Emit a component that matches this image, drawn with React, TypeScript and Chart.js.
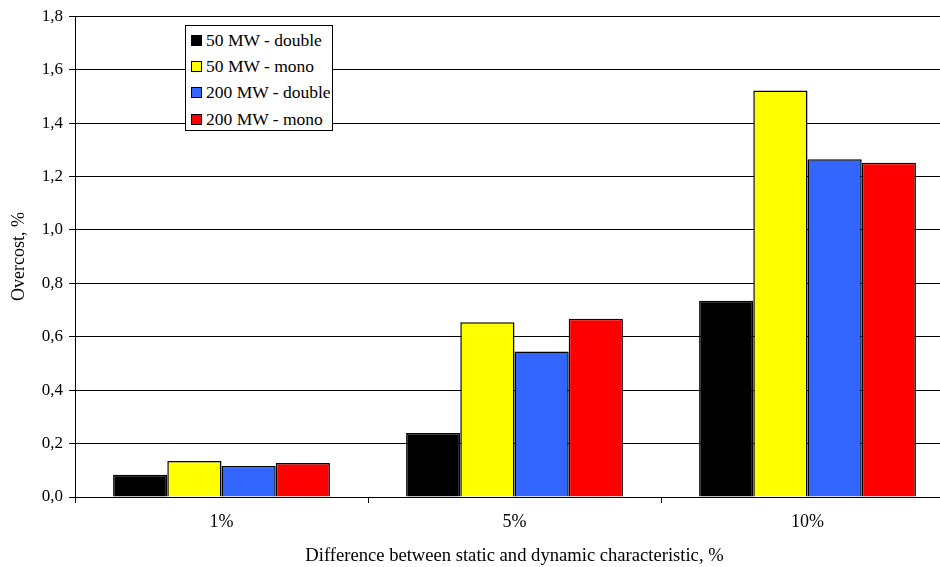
import React, { useEffect, useRef } from "react";
import { Chart, registerables } from "chart.js";

Chart.register(...registerables);

const categories = ["1%", "5%", "10%"];
const seriesNames = ["50 MW - double", "50 MW - mono", "200 MW - double", "200 MW - mono"];
const seriesColors = ["#000000", "#FFFF00", "#3366FF", "#FF0000"];
const s50double = [0.083, 0.24, 0.735];
const s50mono = [0.135, 0.654, 1.522];
const s200double = [0.116, 0.545, 1.264];
const s200mono = [0.127, 0.667, 1.251];
const yTicks = [0, 0.2, 0.4, 0.6, 0.8, 1.0, 1.2, 1.4, 1.6, 1.8];

const FONT = "'Times New Roman', Times, 'Liberation Serif', 'DejaVu Serif', serif";

export default function App() {
  const ref = useRef<HTMLCanvasElement | null>(null);
  useEffect(() => {
    document.body.style.margin = "0";
    const values = [s50double, s50mono, s200double, s200mono];
    const chart = new Chart(ref.current!, {
      type: "bar",
      data: {
        labels: categories,
        datasets: seriesNames.map((n, i) => ({
          label: n,
          data: values[i],
          backgroundColor: seriesColors[i],
          borderColor: "#000",
          borderWidth: 1.5,
          categoryPercentage: 0.74,
          barPercentage: 1,
        })),
      },
      options: {
        responsive: false,
        animation: false,
        layout: { padding: { top: 16, right: 6, left: 8, bottom: 0 } },
        plugins: { legend: { display: false }, tooltip: { enabled: false } },
        scales: {
          x: {
            grid: { drawOnChartArea: false, drawTicks: true, tickLength: 6, color: "#000", offset: true },
            border: { color: "#000", width: 1 },
            ticks: { color: "#000", font: { family: FONT, size: 18 }, padding: 8 },
            title: { display: true, text: "Difference between static and dynamic characteristic, %", color: "#000", font: { family: FONT, size: 18.6 }, padding: { top: 16, bottom: 0 } },
            afterFit: (s: any) => { s.height = 70; },
          },
          y: {
            min: 0,
            max: 1.8,
            afterBuildTicks: (s: any) => { s.ticks = yTicks.map((v) => ({ value: v })); },
            grid: { color: "#000", tickLength: 6, lineWidth: 1 },
            border: { color: "#000", width: 1 },
            ticks: {
              color: "#000",
              font: { family: FONT, size: 17 },
              padding: 6,
              callback: (v: any) => Number(v).toFixed(1).replace(".", ","),
            },
            title: { display: true, text: "Overcost, %", color: "#000", font: { family: FONT, size: 18 }, padding: { top: 0, bottom: 6 } },
            afterFit: (s: any) => { s.width = 67; },
          },
        },
      },
    });
    return () => chart.destroy();
  }, []);

  return (
    <div style={{ position: "relative", width: 940, height: 567, background: "#fff", overflow: "hidden" }}>
      <canvas ref={ref} width={960} height={567} style={{ display: "block" }} />
      <div
        style={{
          position: "absolute",
          left: 185,
          top: 25,
          width: 148,
          height: 106,
          border: "1px solid #000",
          background: "#fff",
          boxSizing: "border-box",
          fontFamily: FONT,
          fontSize: 17.5,
          color: "#000",
          paddingTop: 1,
        }}
      >
        {seriesNames.map((n, i) => (
          <div key={n} style={{ display: "flex", alignItems: "center", height: 26.3, paddingLeft: 5, whiteSpace: "nowrap" }}>
            <span
              style={{
                display: "inline-block",
                width: 9,
                height: 9,
                background: seriesColors[i],
                border: "1.5px solid #000",
                marginRight: 4,
                flex: "none",
              }}
            />
            <span>{n}</span>
          </div>
        ))}
      </div>
    </div>
  );
}
